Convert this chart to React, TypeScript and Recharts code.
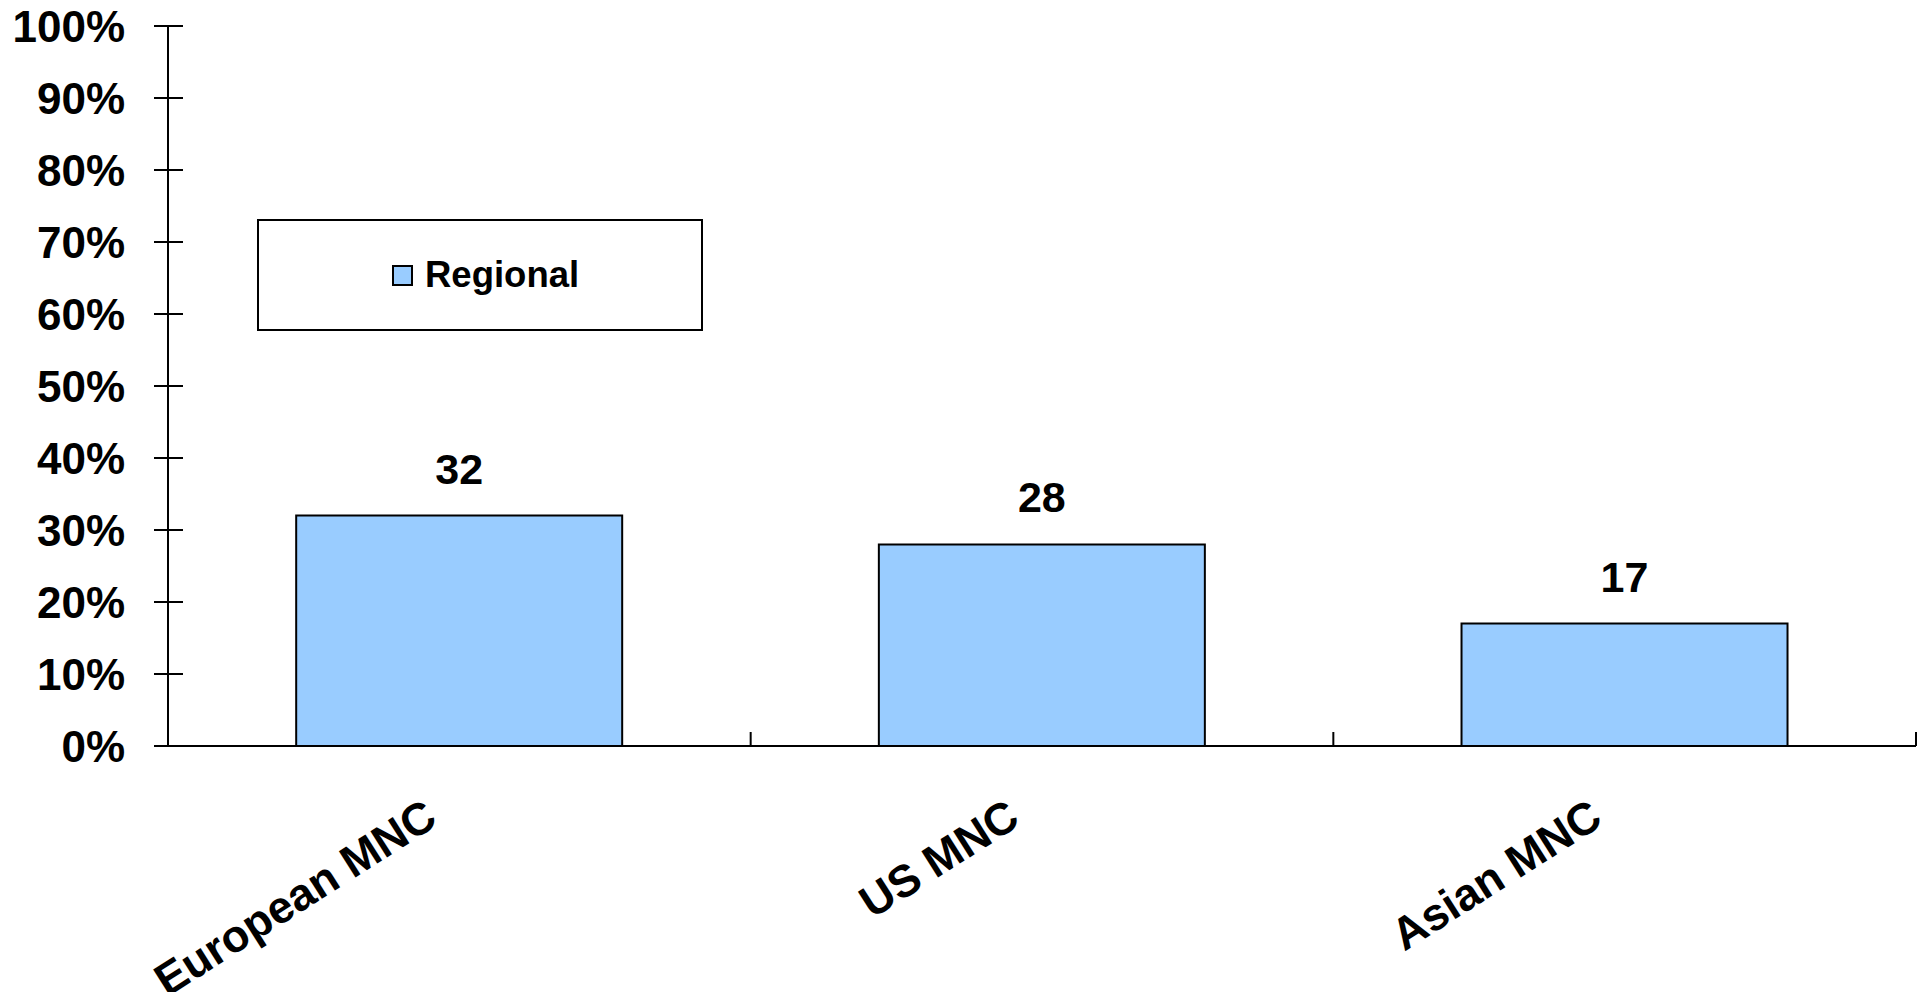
import { BarChart, Bar, XAxis, YAxis, Legend, LabelList } from 'recharts';

const categories = ['European MNC', 'US MNC', 'Asian MNC'];
const regional = [32, 28, 17];
const yTicks = [0, 10, 20, 30, 40, 50, 60, 70, 80, 90, 100];

const data = categories.map((name, i) => ({ name, regional: regional[i] }));

const W = 1923;
const H = 992;
const LEFT = 168;
const RIGHT = 7;
const BAND = (W - LEFT - RIGHT) / categories.length;
const FONT = '"Liberation Sans", Arial, sans-serif';

const YTick = (props: any) => {
  const { x, y, payload } = props;
  return (
    <g>
      <line x1={x - 14} x2={x + 15} y1={y} y2={y} stroke="#000" strokeWidth={2} />
      <text
        x={x - 43}
        y={y}
        dy="0.355em"
        textAnchor="end"
        fontFamily={FONT}
        fontWeight="bold"
        fontSize={44}
        fill="#000"
      >
        {payload.value}%
      </text>
    </g>
  );
};

const XTick = (props: any) => {
  const { x, y, payload } = props;
  const bx = x + BAND / 2;
  const ax = x - 20;
  const ay = y + 78;
  return (
    <g>
      <line x1={bx} x2={bx} y1={y} y2={y - 14} stroke="#000" strokeWidth={2} />
      <text
        x={ax}
        y={ay}
        textAnchor="end"
        transform={`rotate(-32.5, ${ax}, ${ay})`}
        fontFamily={FONT}
        fontWeight="bold"
        fontSize={45}
        fill="#000"
      >
        {payload.value}
      </text>
    </g>
  );
};

const LegendBox = () => (
  <div
    style={{
      width: 446,
      height: 112,
      boxSizing: 'border-box',
      border: '2px solid #000',
      background: '#fff',
      display: 'flex',
      alignItems: 'center',
      paddingLeft: 133,
      fontFamily: FONT,
      fontWeight: 'bold',
      fontSize: 36.5,
      color: '#000',
    }}
  >
    <span
      style={{
        display: 'inline-block',
        width: 21,
        height: 21,
        boxSizing: 'border-box',
        background: '#99CCFF',
        border: '2px solid #000',
        marginRight: 12,
      }}
    />
    <span>Regional</span>
  </div>
);

export default function App() {
  return (
    <div style={{ position: 'absolute', left: 0, top: 0, width: W, height: H, background: '#fff' }}>
      <BarChart
        width={W}
        height={H}
        data={data}
        margin={{ top: 26, right: RIGHT, bottom: 0, left: 0 }}
        barCategoryGap="22%"
      >
        <XAxis
          dataKey="name"
          height={246}
          axisLine={{ stroke: '#000', strokeWidth: 2 }}
          tickLine={false}
          tickSize={0}
          tickMargin={0}
          interval={0}
          tick={<XTick />}
        />
        <YAxis
          width={LEFT}
          domain={[0, 100]}
          ticks={yTicks}
          axisLine={{ stroke: '#000', strokeWidth: 2 }}
          tickLine={false}
          tickSize={0}
          tickMargin={0}
          interval={0}
          tick={<YTick />}
        />
        <Legend
          layout="vertical"
          align="center"
          verticalAlign="middle"
          wrapperStyle={{ left: 257, top: 219, width: 446, height: 112 }}
          content={<LegendBox />}
        />
        <Bar
          dataKey="regional"
          name="Regional"
          fill="#99CCFF"
          stroke="#000"
          strokeWidth={2}
          isAnimationActive={false}
        >
          <LabelList
            dataKey="regional"
            position="top"
            offset={32}
            fontFamily={FONT}
            fontWeight="bold"
            fontSize={43}
            fill="#000"
          />
        </Bar>
      </BarChart>
    </div>
  );
}
